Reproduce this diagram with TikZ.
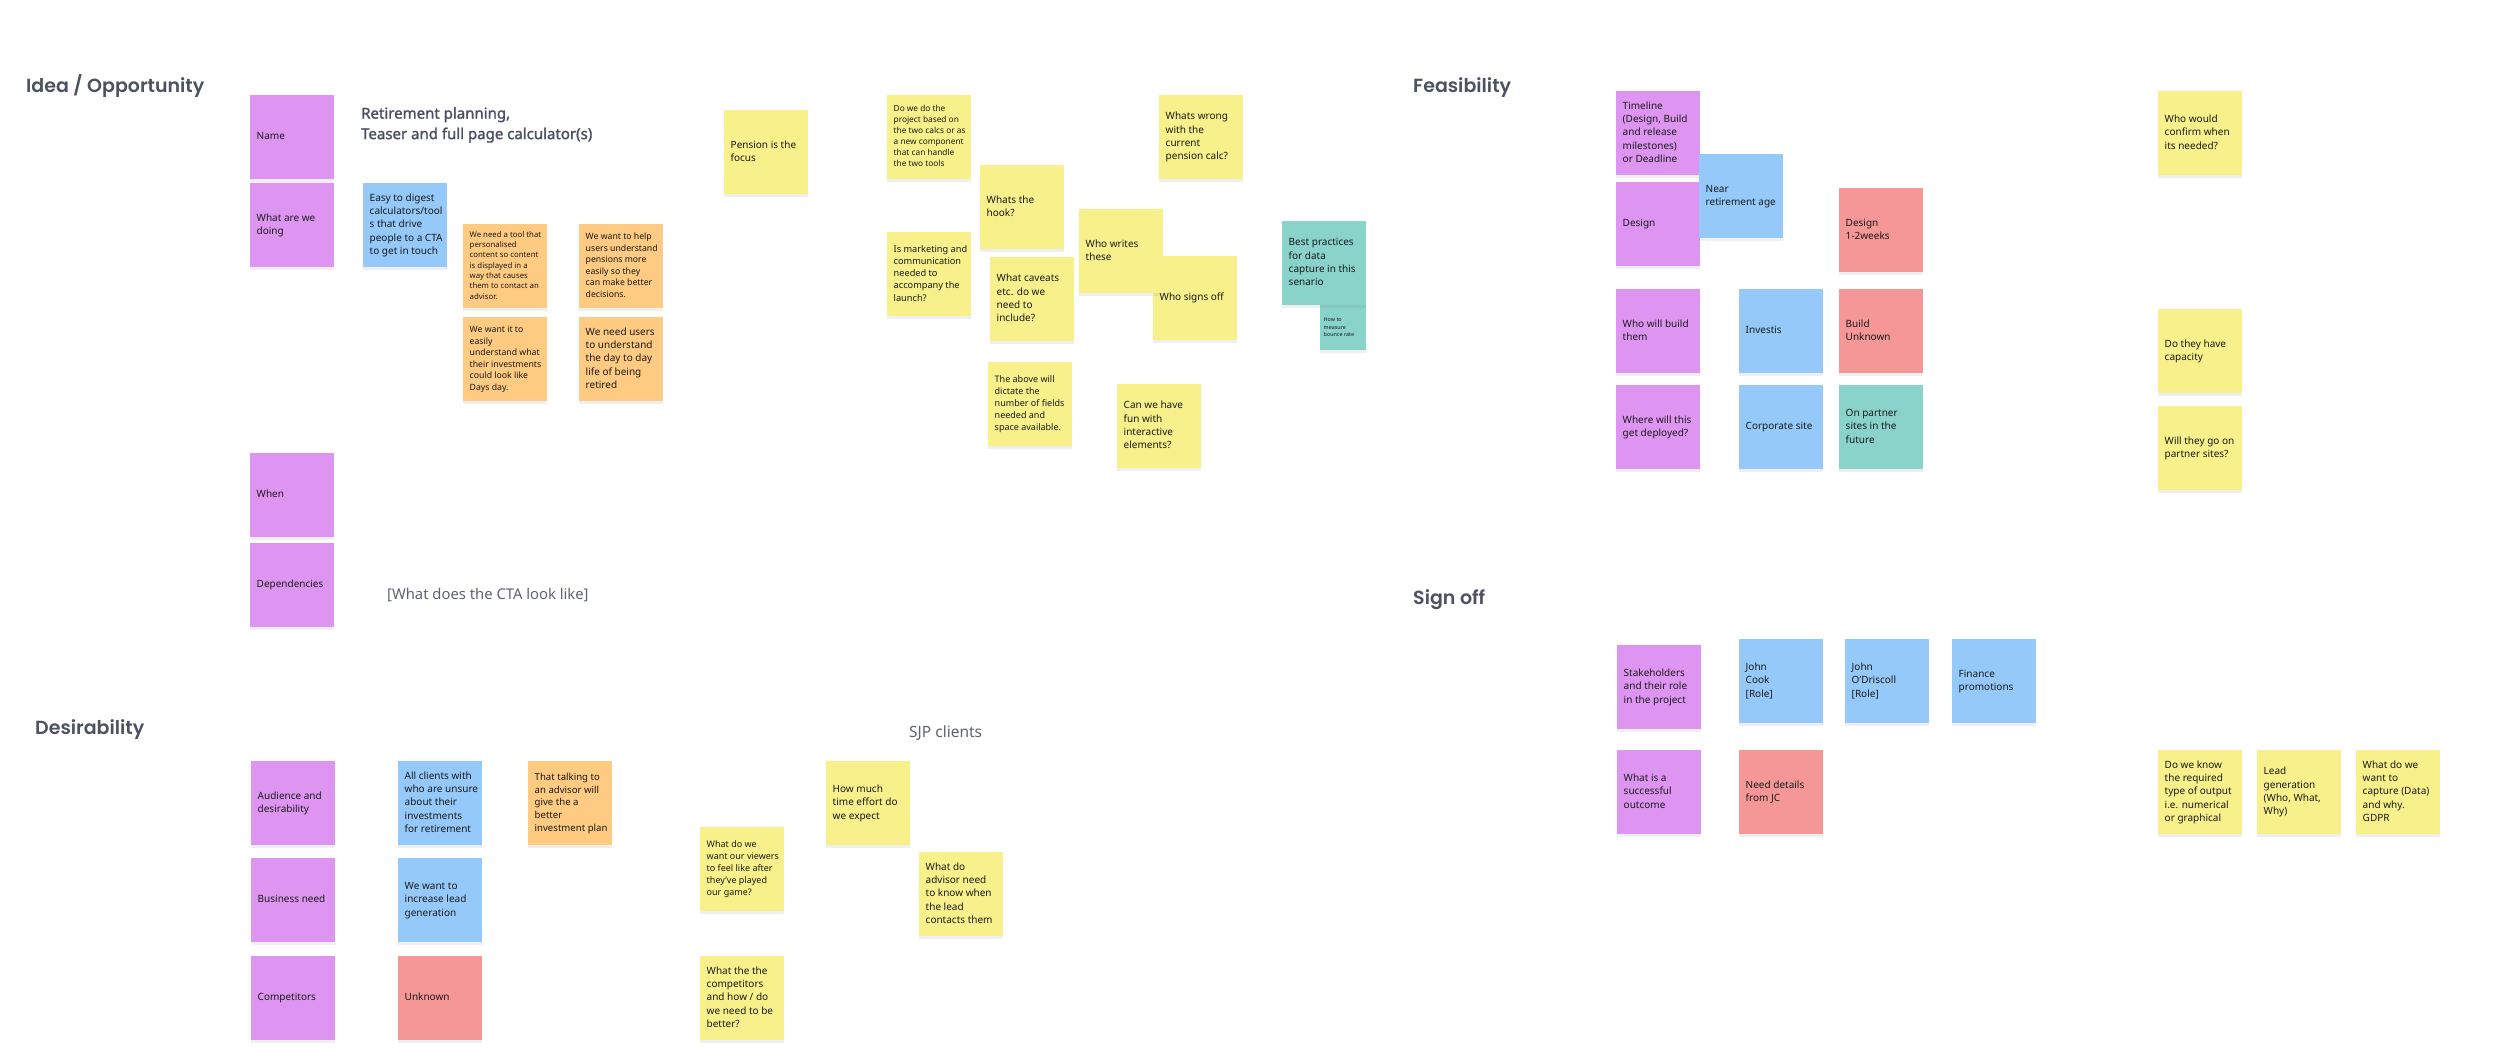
\documentclass[tikz,border=0pt]{standalone}
\usepackage{fontspec}
\setmainfont{Noto Sans}
\newfontfamily\titlefont{Poppins SemiBold}
\newfontfamily\hdrfont{Noto Sans}[FakeBold=1.6]
\usetikzlibrary{shadows}
\definecolor{cpur}{HTML}{DD95F1}
\definecolor{cblue}{HTML}{94C9F9}
\definecolor{corange}{HTML}{FFCA81}
\definecolor{cyellow}{HTML}{F8F08B}
\definecolor{cred}{HTML}{F59797}
\definecolor{cteal}{HTML}{89D3CB}
\definecolor{ntext}{HTML}{1A1A1A}
\definecolor{ttext}{HTML}{4D5262}
\definecolor{htext}{HTML}{4A5064}
\definecolor{ctatext}{HTML}{5E6370}
\newcommand\nt[1]{\makebox[71pt][l]{\begin{tabular}{@{}l@{}}#1\end{tabular}}}
\tikzset{
  note/.style={rectangle, anchor=north west, minimum width=84pt, minimum height=84pt,
    inner xsep=6.5pt, inner ysep=0pt, text=ntext,
    drop shadow={shadow xshift=0pt, shadow yshift=-3pt, opacity=0.12}},
  npur/.style={note, fill=cpur},
  nblue/.style={note, fill=cblue},
  norange/.style={note, fill=corange},
  nyellow/.style={note, fill=cyellow},
  nred/.style={note, fill=cred},
  nteal/.style={note, fill=cteal},
  t10/.style={font=\fontsize{10}{13.3}\selectfont},
  t96/.style={font=\fontsize{9.6}{12.75}\selectfont},
  t92/.style={font=\fontsize{9.2}{12.3}\selectfont},
  t9/.style={font=\fontsize{9}{12}\selectfont},
  t87/.style={font=\fontsize{8.7}{11.5}\selectfont},
  t83/.style={font=\fontsize{8.3}{11}\selectfont},
  t78/.style={font=\fontsize{7.8}{10.3}\selectfont},
  t54/.style={font=\fontsize{5.4}{7.2}\selectfont},
  title/.style={anchor=base west, inner sep=0pt, text=ttext, font=\titlefont\fontsize{19}{22}\selectfont},
  header/.style={anchor=north west, inner sep=0pt, align=left, text=htext, font=\hdrfont\fontsize{15}{20.5}\selectfont},
  plain/.style={anchor=base west, inner sep=0pt, text=ctatext}
}
\begin{document}
\begin{tikzpicture}[x=1pt,y=1pt]
\useasboundingbox (0,0) rectangle (2500,-1063);
\fill[white] (0,0) rectangle (2500,-1063);

% ---------- Idea / Opportunity ----------
\node[title] (tidea) at (26,-92) {Idea / Opportunity};
\node[header] (hdr) at (361,-107) {Retirement planning,\\Teaser and full page calculator(s)};
\node[npur,t10] (name) at (250,-95) {\nt{Name}};
\node[npur,t10] (whatdo) at (250,-183) {\nt{What are we\\doing}};
\node[nblue,t10] (easy) at (363,-183) {\nt{Easy to digest\\calculators/tool\\s that drive\\people to a CTA\\to get in touch}};
\node[norange,t78] (o1) at (463,-224) {\nt{We need a tool that\\personalised\\content so content\\is displayed in a\\way that causes\\them to contact an\\advisor.}};
\node[norange,t87] (o2) at (579,-224) {\nt{We want to help\\users understand\\pensions more\\easily so they\\can make better\\decisions.}};
\node[norange,t87] (o3) at (463,-317) {\nt{We want it to\\easily\\understand what\\their investments\\could look like\\Days day.}};
\node[norange,t10] (o4) at (579,-317) {\nt{We need users\\to understand\\the day to day\\life of being\\retired}};
\node[npur,t10] (when) at (250,-453) {\nt{When}};
\node[npur,t10] (deps) at (250,-543) {\nt{Dependencies}};
\node[plain,font=\fontsize{14.8}{18}\selectfont] (cta) at (387,-599) {[What does the CTA look like]};

\node[nyellow,t10] (pension) at (724,-110) {\nt{Pension is the\\focus}};
\node[nyellow,t83] (dowe) at (887,-95) {\nt{Do we do the\\project based on\\the two calcs or as\\a new component\\that can handle\\the two tools}};
\node[nyellow,t10] (hook) at (980,-165) {\nt{Whats the\\hook?}};
\node[nyellow,t92] (marketing) at (887,-232) {\nt{Is marketing and\\communication\\needed to\\accompany the\\launch?}};
\node[nyellow,t10] (caveats) at (990,-257) {\nt{What caveats\\etc. do we\\need to\\include?}};
\node[nyellow,t10] (signs) at (1153,-256) {\nt{Who signs off}};
\node[nyellow,t10] (writes) at (1079,-209) {\nt{Who writes\\these}};
\node[nyellow,t10] (wrong) at (1159,-95) {\nt{Whats wrong\\with the\\current\\pension calc?}};
\node[nteal,t54,minimum width=46pt,minimum height=45pt,inner xsep=3.5pt] (bounce) at (1320,-305) {\makebox[39pt][l]{\begin{tabular}{@{}l@{}}How to\\measure\\bounce rate\end{tabular}}};
\node[nteal,t10] (best) at (1282,-221) {\nt{Best practices\\for data\\capture in this\\senario}};
\node[nyellow,t9] (above) at (988,-362) {\nt{The above will\\dictate the\\number of fields\\needed and\\space available.}};
\node[nyellow,t10] (fun) at (1117,-384) {\nt{Can we have\\fun with\\interactive\\elements?}};

% ---------- Feasibility ----------
\node[title] (tfeas) at (1413,-92) {Feasibility};
\node[npur,t10] (timeline) at (1616,-91) {\nt{Timeline\\(Design, Build\\and release\\milestones)\\or Deadline}};
\node[npur,t10] (design) at (1616,-182) {\nt{Design}};
\node[nblue,t10] (near) at (1699,-154) {\nt{Near\\retirement age}};
\node[nred,t10] (d12) at (1839,-188) {\nt{Design\\1-2weeks}};
\node[npur,t10] (whobuild) at (1616,-289) {\nt{Who will build\\them}};
\node[nblue,t10] (investis) at (1739,-289) {\nt{Investis}};
\node[nred,t10] (buildunk) at (1839,-289) {\nt{Build\\Unknown}};
\node[npur,t10] (where) at (1616,-385) {\nt{Where will this\\get deployed?}};
\node[nblue,t10] (corp) at (1739,-385) {\nt{Corporate site}};
\node[nteal,t10] (partner) at (1839,-385) {\nt{On partner\\sites in the\\future}};
\node[nyellow,t10] (confirm) at (2158,-91) {\nt{Who would\\confirm when\\its needed?}};
\node[nyellow,t10] (capacity) at (2158,-309) {\nt{Do they have\\capacity}};
\node[nyellow,t10] (gopartner) at (2158,-406) {\nt{Will they go on\\partner sites?}};

% ---------- Sign off ----------
\node[title] (tsign) at (1413,-604) {Sign off};
\node[npur,t10] (stake) at (1617,-645) {\nt{Stakeholders\\and their role\\in the project}};
\node[nblue,t10] (jcook) at (1739,-639) {\nt{John\\Cook\\{}[Role]}};
\node[nblue,t10] (jod) at (1845,-639) {\nt{John\\O'Driscoll\\{}[Role]}};
\node[nblue,t10] (finance) at (1952,-639) {\nt{Finance\\promotions}};
\node[npur,t10] (success) at (1617,-750) {\nt{What is a\\successful\\outcome}};
\node[nred,t10] (needjc) at (1739,-750) {\nt{Need details\\from JC}};
\node[nyellow,t10] (know) at (2158,-750) {\nt{Do we know\\the required\\type of output\\i.e. numerical\\or graphical}};
\node[nyellow,t10] (leadgen) at (2257,-750) {\nt{Lead\\generation\\(Who, What,\\Why)}};
\node[nyellow,t10] (capture) at (2356,-750) {\nt{What do we\\want to\\capture (Data)\\and why.\\GDPR}};

% ---------- Desirability ----------
\node[title] (tdes) at (35,-734) {Desirability};
\node[plain,font=\fontsize{15.5}{18}\selectfont] (sjp) at (909,-737.5) {SJP clients};
\node[npur,t10] (audience) at (251,-761) {\nt{Audience and\\desirability}};
\node[nblue,t10] (allclients) at (398,-761) {\nt{All clients with\\who are unsure\\about their\\investments\\for retirement}};
\node[norange,t96] (talking) at (528,-761) {\nt{That talking to\\an advisor will\\give the a\\better\\investment plan}};
\node[npur,t10] (business) at (251,-858) {\nt{Business need}};
\node[nblue,t10] (leadinc) at (398,-858) {\nt{We want to\\increase lead\\generation}};
\node[npur,t10] (competitors) at (251,-956) {\nt{Competitors}};
\node[nred,t10] (unknown) at (398,-956) {\nt{Unknown}};
\node[nyellow,t9] (viewers) at (700,-827) {\nt{What do we\\want our viewers\\to feel like after\\they've played\\our game?}};
\node[nyellow,t10] (howmuch) at (826,-761) {\nt{How much\\time effort do\\we expect}};
\node[nyellow,t10] (advisor) at (919,-852) {\nt{What do\\advisor need\\to know when\\the lead\\contacts them}};
\node[nyellow,t10] (compwhat) at (700,-956) {\nt{What the the\\competitors\\and how / do\\we need to be\\better?}};
\end{tikzpicture}
\end{document}
